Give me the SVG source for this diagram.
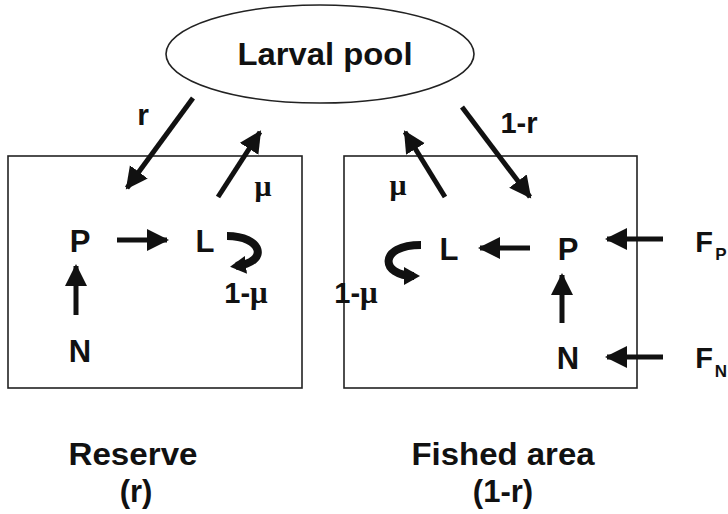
<svg xmlns="http://www.w3.org/2000/svg" width="728" height="514" viewBox="0 0 728 514">
<defs>
<marker id="ah" markerUnits="userSpaceOnUse" markerWidth="26" markerHeight="26" refX="20" refY="11" orient="auto">
<path d="M0,0 L22,11 L0,22 Z" fill="#111"/>
</marker>
<marker id="ahs" markerUnits="userSpaceOnUse" markerWidth="20" markerHeight="20" refX="10" refY="9" orient="auto">
<path d="M0,0 L16,9 L0,18 Z" fill="#111"/>
</marker>
<style>
.box{fill:none;stroke:#222;stroke-width:1.6}
.t{font-family:"Liberation Sans",Arial,sans-serif;font-weight:bold;fill:#111;text-anchor:middle}
.mu{font-family:"Liberation Serif","Times New Roman",serif;font-weight:bold;fill:#111}
.c{stroke:#111;stroke-width:5;fill:none}
.curl{stroke:#111;stroke-width:8;fill:none}
</style>
</defs>
<rect width="728" height="514" fill="#fff"/>
<g id="larval-pool">
<ellipse cx="320" cy="54" rx="154" ry="49" fill="none" stroke="#222" stroke-width="1.6"/>
<text class="t" x="325" y="65" font-size="32" textLength="175" lengthAdjust="spacingAndGlyphs">Larval pool</text>
</g>
<g id="reserve">
<rect class="box" x="8" y="156" width="294" height="232"/>
<text class="t" x="80" y="252" font-size="31">P</text>
<text class="t" x="80" y="362" font-size="31">N</text>
<text class="t" x="205" y="252" font-size="31">L</text>
<text class="t" x="133" y="465" font-size="32" textLength="129" lengthAdjust="spacingAndGlyphs">Reserve</text>
<text class="t" x="136" y="502" font-size="31">(r)</text>
</g>
<g id="fished-area">
<rect class="box" x="344" y="156" width="293" height="232"/>
<text class="t" x="568" y="260" font-size="31">P</text>
<text class="t" x="568" y="369" font-size="31">N</text>
<text class="t" x="449" y="260" font-size="31">L</text>
<text class="t" x="503" y="465" font-size="32" textLength="183" lengthAdjust="spacingAndGlyphs">Fished area</text>
<text class="t" x="503" y="502" font-size="31">(1-r)</text>
</g>
<g id="fp">
<text class="t" x="704" y="252" font-size="29">F</text>
<text class="t" x="721" y="260" font-size="17">P</text>
</g>
<g id="fn">
<text class="t" x="704" y="368" font-size="29">F</text>
<text class="t" x="721" y="377" font-size="17">N</text>
</g>
<g id="connectors">
<line class="c" x1="193" y1="98" x2="127" y2="188" marker-end="url(#ah)"/>
<text class="t" x="143" y="125" font-size="30">r</text>
<line class="c" x1="218" y1="197" x2="260" y2="132" marker-end="url(#ah)"/>
<text class="mu" x="263" y="196" font-size="30" text-anchor="middle">μ</text>
<line class="c" x1="117" y1="240" x2="167" y2="240" marker-end="url(#ah)"/>
<line class="c" x1="76" y1="315" x2="76" y2="266" marker-end="url(#ah)"/>
<path class="curl" d="M227,236 C262,236 270,262 236,266" marker-end="url(#ahs)"/>
<text x="246" y="303" class="t" font-size="29" text-anchor="start">1-<tspan class="mu" font-size="31">μ</tspan></text>
<line class="c" x1="462" y1="107" x2="530" y2="197" marker-end="url(#ah)"/>
<text class="t" x="519" y="133" font-size="29">1-r</text>
<line class="c" x1="445" y1="197" x2="405" y2="132" marker-end="url(#ah)"/>
<text class="mu" x="398" y="195" font-size="30" text-anchor="middle">μ</text>
<line class="c" x1="530" y1="248" x2="480" y2="248" marker-end="url(#ah)"/>
<line class="c" x1="562" y1="323" x2="562" y2="275" marker-end="url(#ah)"/>
<path class="curl" d="M421,245 C378,245 380,276 414,276" marker-end="url(#ahs)"/>
<text x="356" y="303" class="t" font-size="29" text-anchor="start">1-<tspan class="mu" font-size="31">μ</tspan></text>
<line class="c" x1="663" y1="239" x2="607" y2="239" marker-end="url(#ah)"/>
<line class="c" x1="663" y1="357" x2="607" y2="357" marker-end="url(#ah)"/>
</g>
</svg>
